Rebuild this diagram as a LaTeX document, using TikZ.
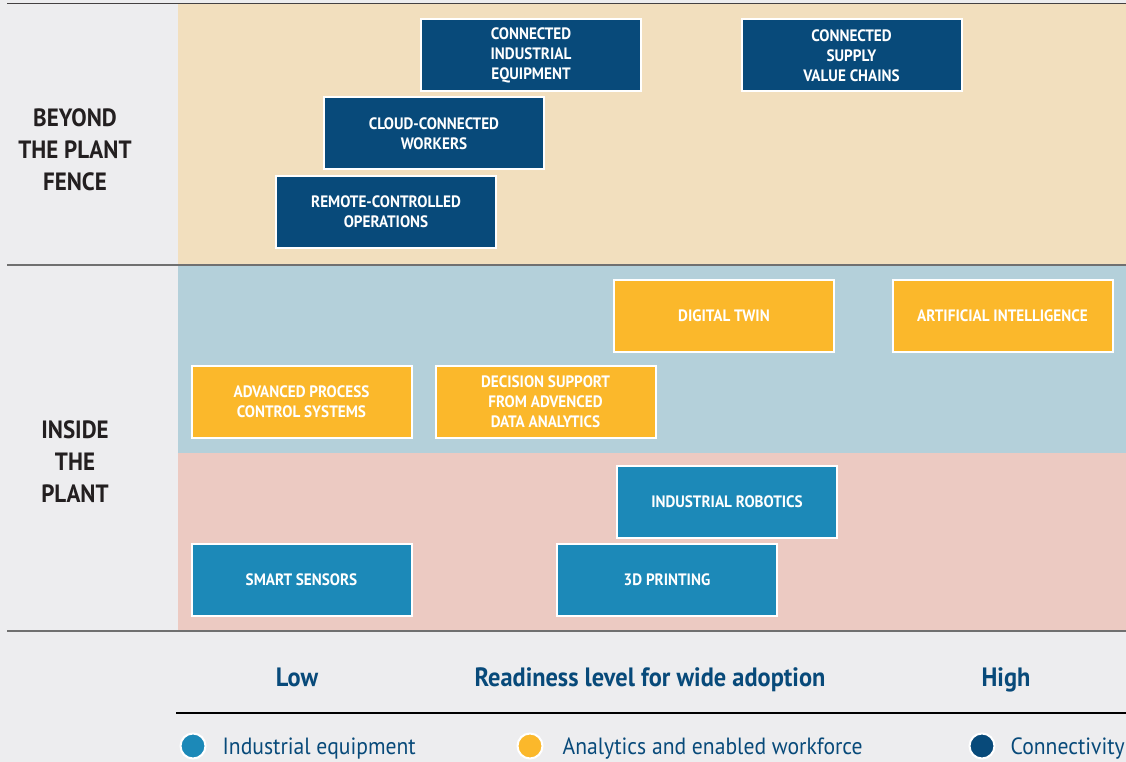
\documentclass[tikz,border=0pt]{standalone}
\usepackage{fontspec}
\setmainfont{PT Sans}[FakeStretch=0.92]
\usetikzlibrary{positioning}
\definecolor{bgGrey}{HTML}{EDEDEF}
\definecolor{bandBeige}{HTML}{F2DFBE}
\definecolor{bandBlue}{HTML}{B4D0DA}
\definecolor{bandPink}{HTML}{ECCAC2}
\definecolor{connBlue}{HTML}{084A7A}
\definecolor{analYellow}{HTML}{FBB82B}
\definecolor{equipBlue}{HTML}{1C89B8}
\definecolor{ruleGrey}{HTML}{707070}
\definecolor{labelBlack}{HTML}{231F20}

\begin{document}
\begin{tikzpicture}[
        x=1pt, y=-1pt,
        tile/.style={
            draw=white,
            line width=2pt,
            minimum width=220pt,
            minimum height=72pt,
            inner sep=0pt,
            align=center,
            text=white,
            font=\fontsize{16.5}{20}\selectfont\bfseries
        },
        conn/.style={tile, fill=connBlue},
        anal/.style={tile, fill=analYellow},
        equip/.style={tile, fill=equipBlue},
        zone/.style={
            align=center,
            text=labelBlack,
            font=\fontsize{25}{32}\selectfont\bfseries
        },
        axislabel/.style={
            anchor=base,
            text=connBlue,
            font=\fontsize{26.5}{30}\selectfont\bfseries
        },
        dot/.style={
            circle,
            draw=white,
            line width=2pt,
            minimum size=25pt,
            inner sep=0pt
        },
        legendtext/.style={
            text=connBlue,
            inner sep=0pt,
            text height=17pt,
            text depth=0pt,
            font=\fontsize{23.5}{28}\selectfont
        },
        rule/.style={ruleGrey, line width=2pt}
    ]
        % background and bands
        \useasboundingbox[fill=bgGrey] (0,0) rectangle (1126,762);
        \fill[bandBeige] (178,4) rectangle (1126,264);
        \fill[bandBlue] (178,265) rectangle (1126,453);
        \fill[bandPink] (178,453) rectangle (1126,631);
        \draw[labelBlack!85, line width=1.5pt] (7,3.5) -- (1126,3.5);
        \draw[rule] (7,264.5) -- (1126,264.5);
        \draw[rule] (7,631) -- (1126,631);
        \draw[black, line width=2.5pt] (176,713) -- (1126,713);

        % zone labels
        \node[zone] (beyond) at (75,150) {BEYOND\\THE PLANT\\FENCE};
        \node[zone] (inside) at (75,462) {INSIDE\\THE\\PLANT};

        % connectivity
        \node[conn] (equipnet) at (531,55.5) {CONNECTED\\INDUSTRIAL\\EQUIPMENT};
        \node[conn] (supply) at (851.5,55.5) {CONNECTED\\SUPPLY\\VALUE CHAINS};
        \node[conn] (workers) at (434,133.5) {CLOUD-CONNECTED\\WORKERS};
        \node[conn] (remote) at (386,212) {REMOTE-CONTROLLED\\OPERATIONS};

        % analytics and workforce
        \node[anal] (twin) at (724,315.5) {DIGITAL TWIN};
        \node[anal] (ai) at (1002.5,315.5) {ARTIFICIAL INTELLIGENCE};
        \node[anal] (apc) at (301.5,401.5) {ADVANCED PROCESS\\CONTROL SYSTEMS};
        \node[anal] (decision) at (545.5,401.5) {DECISION SUPPORT\\FROM ADVENCED\\DATA ANALYTICS};

        % industrial equipment
        \node[equip] (robotics) at (727,502) {INDUSTRIAL ROBOTICS};
        \node[equip] (sensors) at (301.5,579.5) {SMART SENSORS};
        \node[equip] (printing) at (667,579.5) {3D PRINTING};

        % readiness axis
        \node[axislabel] (low) at (297,686) {Low};
        \node[axislabel] (readiness) at (650,686) {Readiness level for wide adoption};
        \node[axislabel] (high) at (1006,686) {High};

        % legend
        \node[dot, fill=equipBlue] (dotequip) at (193,746) {};
        \node[legendtext, right=16pt of dotequip] (txtequip) {Industrial equipment};
        \node[dot, fill=analYellow] (dotanal) at (530,746) {};
        \node[legendtext, right=19pt of dotanal] (txtanal) {Analytics and enabled workforce};
        \node[dot, fill=connBlue] (dotconn) at (982,746) {};
        \node[legendtext, right=15pt of dotconn] (txtconn) {Connectivity};
    \end{tikzpicture}
\end{document}
